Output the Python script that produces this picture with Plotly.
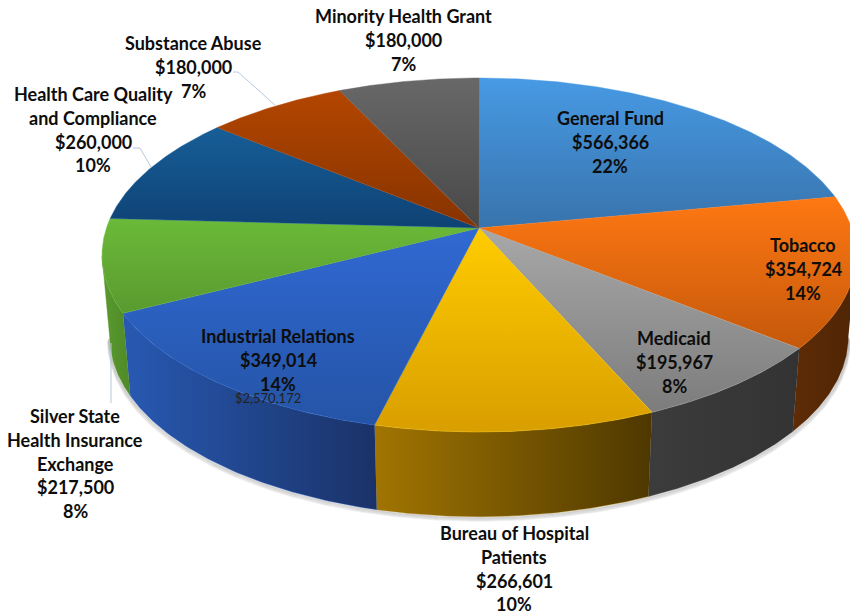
import numpy as np
import plotly.graph_objects as go

# ---- data ----
names = [["General Fund"], ["Tobacco"], ["Medicaid"], ["Bureau of Hospital", "Patients"],
         ["Industrial Relations"], ["Silver State", "Health Insurance", "Exchange"],
         ["Health Care Quality", "and Compliance"], ["Substance Abuse"], ["Minority Health Grant"]]
values = [566366, 354724, 195967, 266601, 349014, 217500, 260000, 180000, 180000]
total_label = "$2,570,172"

# ---- styles (top gradient: upper colour, lower colour; wall gradient: left, right) ----
top_colors = [("#479AE4", "#3873AC"), ("#FF7813", "#C4580A"), ("#A8A8A8", "#7C7C7C"),
              ("#FFCC00", "#D99E00"), ("#3169D3", "#2454A6"), ("#6BBA38", "#5A9A30"),
              ("#175E98", "#0E4274"), ("#B34600", "#863300"), ("#686868", "#484848")]
wall_colors = [None, ("#5E2C06", "#4F2504"), ("#3C3C3C", "#333333"), ("#A17502", "#4E3800"),
               ("#2859B2", "#1A3268"), ("#5B9A2F", "#4E8A28"), None, None, None]
label_pos = [(610, 118), (803, 245), (674, 338), (514, 533), (278, 336),
             (75, 416), (93, 94), (193, 43), (403, 16)]
label_step = 23.8
total_pos = (268, 398)
leaders = [([233, 238, 275], [72, 72, 105]), ([133, 140, 151], [148, 148, 167]), ([111, 111], [343, 403])]

# ---- perspective projection of the pie disc to the page ----
CX, CY, K = 479, 228, 0.1525
SIL_R, SIL_L = np.radians(99), np.radians(261)   # silhouette angles of the 3D disc
def top(a):
    u, v = np.sin(a), -np.cos(a)
    d = 1 - K * v
    return CX + 372.6 * u / d, CY + 172.9 * v / d
def bottom(a, extra=0):
    u, v = np.sin(a), -np.cos(a)
    d = 1 - K * v
    return CX + 365 * u / d, CY + 81 + extra + 176 * v / d

fractions = np.array(values) / sum(values)
edges = np.concatenate([[0], np.cumsum(fractions)]) * 2 * np.pi
fig = go.Figure()

def poly(x, y, grad, kind, width=0.7):
    fig.add_trace(go.Scatter(
        x=x, y=y, mode="lines", fill="toself", hoverinfo="skip", showlegend=False,
        line=dict(color=grad[0], width=width),
        fillgradient=dict(type=kind, colorscale=[[0, grad[0]], [1, grad[1]]],
                          start=(min(y) if kind == "vertical" else min(x)),
                          stop=(max(y) if kind == "vertical" else max(x)))))

# soft shadow below the rim
for extra, op in [(4, 0.10), (3, 0.14), (2, 0.18), (1, 0.22)]:
    a = np.linspace(SIL_R, SIL_L, 200)
    bx, by = bottom(a, extra)
    fig.add_trace(go.Scatter(x=bx - np.sign(CX - bx) * extra * 0.5, y=by, mode="lines", hoverinfo="skip",
                             showlegend=False, line=dict(color=f"rgba(90,90,90,{op})", width=1.5)))

# walls
for i, wc in enumerate(wall_colors):
    if wc is None:
        continue
    a = np.linspace(max(edges[i], SIL_R), min(edges[i + 1], SIL_L), 80)
    tx, ty = top(a)
    bx, by = bottom(a[::-1])
    poly(np.concatenate([tx, bx]), np.concatenate([ty, by]), wc, "horizontal", 0.4)

# top slices
for i, tc in enumerate(top_colors):
    a = np.linspace(edges[i], edges[i + 1], 120)
    rx, ry = top(a)
    poly(np.concatenate([[CX], rx, [CX]]), np.concatenate([[CY], ry, [CY]]), tc, "vertical", 0.4)

for lx, ly in leaders:
    fig.add_trace(go.Scatter(x=lx, y=ly, mode="lines", hoverinfo="skip", showlegend=False,
                             line=dict(color="#B9C8DC", width=1)))

FONT = "Lato, Carlito, Calibri, sans-serif"
for i, nm in enumerate(names):
    lines = nm + [f"${values[i]:,}", f"{round(fractions[i] * 100)}%"]
    for j, t in enumerate(lines):
        fig.add_annotation(x=label_pos[i][0], y=label_pos[i][1] + j * label_step, text=t, showarrow=False,
                           xanchor="center", yanchor="middle",
                           font=dict(family=FONT, size=18, color="#0D0D0D", weight="bold"))
fig.add_annotation(x=total_pos[0], y=total_pos[1], text=total_label, showarrow=False,
                   xanchor="center", yanchor="middle", font=dict(family=FONT, size=13, color="#222222"))

fig.update_layout(width=850, height=613, margin=dict(l=0, r=0, t=0, b=0),
                  paper_bgcolor="white", plot_bgcolor="white", showlegend=False,
                  xaxis=dict(range=[0, 850], visible=False, fixedrange=True),
                  yaxis=dict(range=[613, 0], visible=False, fixedrange=True))
fig.write_html("out.html", config={"displayModeBar": False},
               post_script="document.body.style.margin='0';document.documentElement.style.overflow='hidden';")
